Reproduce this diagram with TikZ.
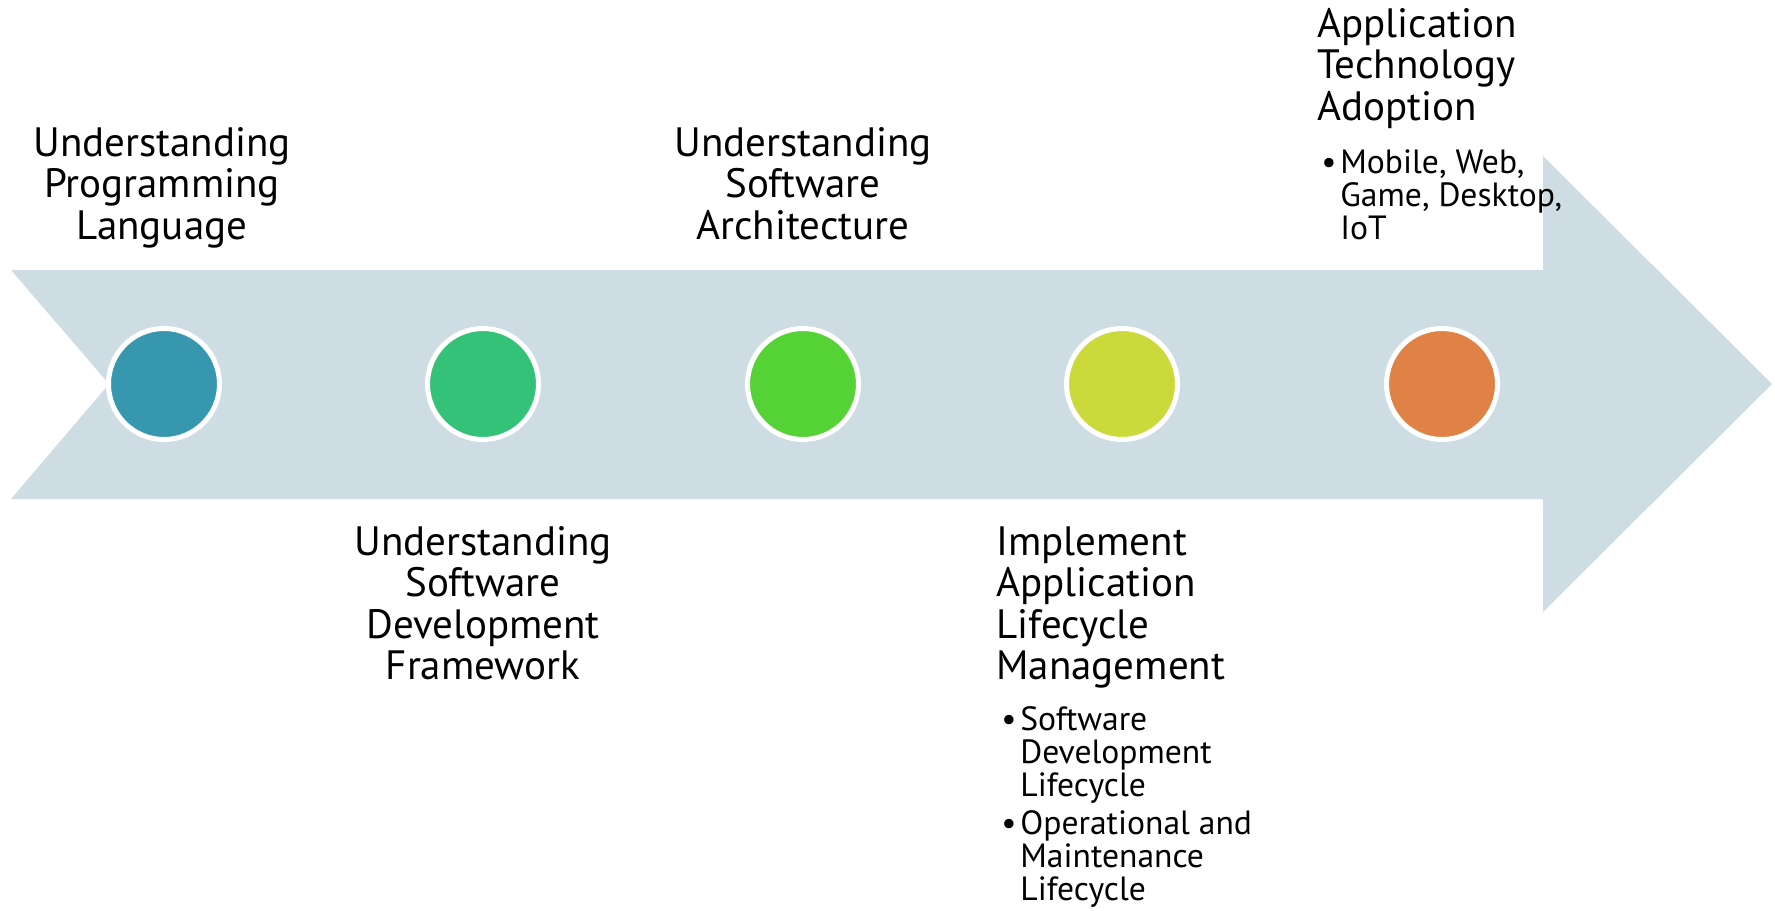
\documentclass[tikz,border=0pt]{standalone}
\usepackage{fontspec}
\setmainfont{PT Sans}
\usepackage{tikz}
\definecolor{bandblue}{HTML}{CEDDE4}
\definecolor{phaseone}{HTML}{3697AE}
\definecolor{phasetwo}{HTML}{34C178}
\definecolor{phasethree}{HTML}{55D235}
\definecolor{phasefour}{HTML}{CCD93B}
\definecolor{phasefive}{HTML}{E08245}
\newcommand{\linestack}[2][c]{\vtop{\let\\\cr
	\halign{\ifx c#1\hfil\fi##\hfil\cr#2\crcr}}}
\newcommand{\bulletstack}[1]{\vtop{\let\\\cr
	\halign{##\hfil&##\hfil\cr#1\crcr}}}
\newcommand{\itembullet}{\makebox[9.5pt][l]{\textbullet}}
\tikzset{
	milestone/.style   = {shape=circle, draw=white, line width=2.5pt,
		minimum size=55.5pt, inner sep=0pt},
	phase/.style       = {inner sep=0pt, anchor=base,
		font=\fontsize{20.5}{20.75}\selectfont},
	phaseleft/.style   = {phase, anchor=base west},
	phasedetail/.style = {inner sep=0pt, anchor=base west,
		font=\fontsize{16.8}{16.5}\selectfont}
}
\begin{document}
\begin{tikzpicture}
	[
	x = 0.5pt,
	y = -0.5pt
	]
	\useasboundingbox (0,0) rectangle (1775,910);
	\fill [bandblue] (11,270) -- (1543,270) -- (1543,156) -- (1772,384)
		-- (1543,612) -- (1543,499) -- (11,499) -- (109,384) -- cycle;
	\node [milestone, fill=phaseone]   (m1) at (164,384) {};
	\node [milestone, fill=phasetwo]   (m2) at (483,384) {};
	\node [milestone, fill=phasethree] (m3) at (803,384) {};
	\node [milestone, fill=phasefour]  (m4) at (1122,384) {};
	\node [milestone, fill=phasefive]  (m5) at (1442,384) {};
	\node [phase] (lang) at (162,156)
		{\linestack{Understanding\\Programming\\Language}};
	\node [phase] (frame) at (483,555)
		{\linestack{Understanding\\Software\\Development\\Framework}};
	\node [phase] (arch) at (803,156)
		{\linestack{Understanding\\Software\\Architecture}};
	\node [phaseleft] (alm) at (996,555)
		{\linestack[l]{Implement\\Application\\Lifecycle\\Management}};
	\node [phasedetail] (almitems) at (1001,730)
		{\bulletstack{
			\itembullet & Software\\
			& Development\\
			& Lifecycle\\
			\noalign{\vskip2.6pt}
			\itembullet & Operational and\\
			& Maintenance\\
			& Lifecycle}};
	\node [phaseleft] (adopt) at (1317,37)
		{\linestack[l]{Application\\Technology\\Adoption}};
	\node [phasedetail] (adoptitems) at (1321,173)
		{\bulletstack{
			\itembullet & Mobile, Web,\\
			& Game, Desktop,\\
			& IoT}};
\end{tikzpicture}
\end{document}
